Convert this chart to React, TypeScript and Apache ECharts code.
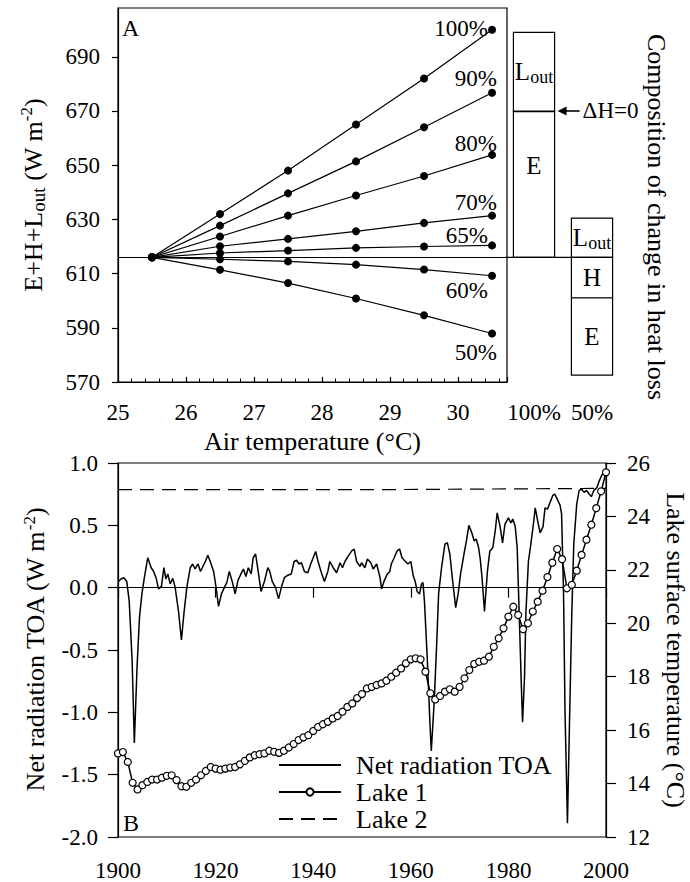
import React, { useEffect, useRef } from 'react';
import * as echarts from 'echarts';

const FONT = 'Liberation Serif, Times New Roman, serif';
const INK = '#000';

// ---------- Panel A : heat loss vs air temperature ----------
const airTemps = [25.5, 26.5, 27.5, 28.5, 29.5, 30.5];
const scenarioNames = ['100%', '90%', '80%', '70%', '65%', '60%', '50%'];
const loss100 = [616, 632, 648, 665, 682, 700];
const loss90 = [616, 627.7, 639.6, 651.4, 664, 676.7];
const loss80 = [616, 623.7, 631.4, 638.8, 646, 653.8];
const loss70 = [616, 620.1, 622.8, 625.6, 628.7, 631.4];
const loss65 = [616, 617.6, 618.5, 619.5, 620, 620.4];
const loss60 = [616, 615.3, 614.5, 613.3, 611.5, 609.2];
const loss50 = [616, 611.4, 606.5, 600.8, 594.6, 587.9];
const baselineLoss = 616;
const panelAXTicks = [25, 26, 27, 28, 29, 30];
const panelAYTicks = [570, 590, 610, 630, 650, 670, 690];

// composition of change in heat loss (stacked boxes)
const compCategories = ['100%', '50%'];
const compBar = [0, 0, 1, 1, 1];
const compLow = [616, 670, 616, 601, 572.5];
const compHigh = [670, 699, 630.5, 616, 601];
const compNames = ['E', 'Lout', 'Lout', 'H', 'E'];
const deltaHZero = 670;

// ---------- Panel B : time series ----------
const netRadiation: [number, number][] = [
  [1900.1, 0.05], [1900.6, 0.07], [1901.2, 0.08], [1901.8, 0.05], [1902.3, -0.11], [1902.9, -0.59],
  [1903.35, -1.245], [1903.9, -0.64], [1904.4, -0.24], [1904.9, -0.05], [1905.4, 0.08], [1906.1, 0.24],
  [1906.8, 0.16], [1907.3, 0.13], [1907.8, 0.08], [1908.3, -0.01], [1908.9, 0.01], [1909.4, 0.16],
  [1909.8, 0.07], [1910.2, 0.11], [1910.7, 0.03], [1911.2, 0.075], [1911.7, 0.005], [1912.4, -0.19],
  [1913.0, -0.42], [1913.5, -0.21], [1914.1, 0.0], [1914.8, 0.16], [1915.3, 0.19], [1915.8, 0.15],
  [1916.4, 0.19], [1916.9, 0.13], [1917.4, 0.17], [1917.9, 0.21], [1918.4, 0.26], [1918.9, 0.21],
  [1919.6, 0.13], [1920.1, 0.0], [1920.6, -0.15], [1921.2, -0.05], [1921.9, 0.01], [1922.3, 0.04],
  [1922.8, 0.13], [1923.4, 0.05], [1924.0, -0.05], [1924.6, 0.06], [1925.2, 0.11], [1925.7, 0.15],
  [1926.2, 0.09], [1926.7, 0.16], [1927.3, 0.11], [1927.7, 0.24], [1928.2, 0.27], [1928.8, 0.11],
  [1929.3, -0.03], [1930.0, 0.05], [1930.7, 0.16], [1931.1, 0.13], [1931.6, 0.05], [1932.3, 0.0],
  [1932.9, -0.09], [1933.6, 0.02], [1934.1, 0.08], [1934.8, 0.1], [1935.5, 0.11], [1936.1, 0.21],
  [1936.6, 0.22], [1937.1, 0.19], [1937.6, 0.2], [1938.2, 0.13], [1938.9, 0.12], [1939.5, 0.19],
  [1940.5, 0.29], [1941.0, 0.21], [1941.6, 0.13], [1942.3, 0.05], [1943.0, 0.13], [1943.4, 0.21],
  [1944.1, 0.16], [1944.8, 0.12], [1945.5, 0.2], [1946.0, 0.16], [1946.5, 0.21], [1947.2, 0.255],
  [1947.9, 0.295], [1948.4, 0.31], [1948.9, 0.21], [1949.6, 0.17], [1949.9, 0.2], [1950.6, 0.16],
  [1951.1, 0.23], [1951.8, 0.2], [1952.3, 0.15], [1953.0, 0.19], [1953.7, 0.08], [1954.0, -0.01],
  [1954.5, 0.05], [1955.2, 0.11], [1955.7, 0.13], [1956.0, 0.19], [1956.6, 0.24], [1957.2, 0.295],
  [1957.7, 0.31], [1958.2, 0.24], [1958.9, 0.21], [1959.4, 0.19], [1960.0, 0.21], [1960.5, 0.095],
  [1960.9, 0.05], [1961.3, -0.03], [1961.8, -0.05], [1962.2, 0.03], [1962.5, 0.04], [1962.8, -0.11],
  [1963.4, -0.59], [1963.9, -1.07], [1964.2, -1.31], [1964.8, -0.91], [1965.3, -0.455], [1965.7, -0.05],
  [1966.3, 0.16], [1967.0, 0.35], [1967.5, 0.36], [1968.0, 0.27], [1968.5, 0.08], [1969.2, -0.16],
  [1969.7, -0.05], [1970.2, 0.11], [1970.9, 0.27], [1971.4, 0.375], [1971.9, 0.5], [1972.5, 0.44],
  [1973.0, 0.375], [1973.4, 0.39], [1973.9, 0.32], [1974.2, 0.24], [1974.6, 0.08], [1975.1, -0.19],
  [1975.7, 0.13], [1976.2, 0.295], [1976.8, 0.32], [1977.3, 0.455], [1977.7, 0.6], [1978.3, 0.49],
  [1978.8, 0.36], [1979.3, 0.51], [1980.0, 0.56], [1980.5, 0.52], [1980.9, 0.55], [1981.4, 0.49],
  [1981.8, 0.32], [1982.2, -0.19], [1982.6, -0.72], [1982.9, -1.08], [1983.3, -0.72], [1983.6, -0.19],
  [1984.1, 0.21], [1984.6, 0.35], [1985.2, 0.535], [1985.5, 0.64], [1986.0, 0.535], [1986.5, 0.44],
  [1987.1, 0.49], [1987.5, 0.64], [1988.0, 0.63], [1988.5, 0.68], [1989.1, 0.74], [1989.5, 0.75],
  [1990.0, 0.71], [1990.6, 0.66], [1990.9, 0.59], [1991.3, -0.05], [1991.6, -0.99], [1992.1, -1.89],
  [1992.5, -1.12], [1993.0, -0.19], [1993.4, 0.35], [1994.0, 0.67], [1994.5, 0.78], [1995.0, 0.79],
  [1995.5, 0.765], [1996.0, 0.78], [1996.6, 0.75], [1997.0, 0.73], [1997.5, 0.78], [1998.1, 0.8],
  [1998.6, 0.855], [1999.1, 0.9], [1999.8, 0.94],
];

const lake1FirstYear = 1900;
const lake1Temps = [
  15.13, 15.18, 14.81, 14.03, 13.78, 13.94, 14.06, 14.15, 14.15, 14.22,
  14.29, 14.31, 14.13, 13.9, 13.88, 14.03, 14.15, 14.31, 14.47, 14.62,
  14.56, 14.52, 14.56, 14.6, 14.62, 14.72, 14.85, 14.98, 15.06, 15.1,
  15.13, 15.23, 15.19, 15.15, 15.23, 15.35, 15.48, 15.63, 15.73, 15.81,
  15.97, 16.12, 16.22, 16.31, 16.44, 16.53, 16.69, 16.87, 17.0, 17.2,
  17.35, 17.56, 17.62, 17.69, 17.75, 17.85, 18.0, 18.15, 18.31, 18.5,
  18.65, 18.69, 18.65, 18.19, 17.38, 17.15, 17.28, 17.44, 17.53, 17.44,
  17.62, 17.94, 18.25, 18.48, 18.56, 18.6, 18.75, 19.12, 19.44, 19.81,
  20.25, 20.62, 20.31, 19.78, 20.0, 20.44, 20.81, 21.22, 21.73, 22.27,
  22.78, 22.4, 21.31, 21.44, 21.97, 22.56, 23.13, 23.69, 24.31, 24.94,
  25.65,
];

const lake2Years = [1900, 1950, 2000];
const lake2Temps = [25.0, 25.0, 25.05];

const bYearTicks = [1900, 1920, 1940, 1960, 1980, 2000];

// label placement (style only) for the percentage labels
const pctLabelOffset: [number, number][] = [
  [0, -1], [9, -14], [9, -11], [9, -13], [0, -10], [0, 15], [9, 19],
];

export default function App() {
  const ref = useRef<HTMLDivElement | null>(null);

  useEffect(() => {
    document.body.style.margin = '0';
    if (!ref.current) return;
    const chart = echarts.init(ref.current, null, { renderer: 'svg' });

    const scenarioValues = [loss100, loss90, loss80, loss70, loss65, loss60, loss50];

    const axisLine = { show: true, lineStyle: { color: INK, width: 1.2 } };
    const labelStyle = { fontSize: 23, fontFamily: FONT, color: INK };
    const nameStyleBase = { fontSize: 26, fontFamily: FONT, color: INK };
    const nameRich = {
      sub: { fontSize: 19, fontFamily: FONT, color: INK, verticalAlign: 'bottom', lineHeight: 19 },
      sup: { fontSize: 17, fontFamily: FONT, color: INK, verticalAlign: 'top', lineHeight: 17 },
    };

    const lineSeries = scenarioValues.map((vals, k) => ({
      type: 'line',
      name: scenarioNames[k],
      xAxisIndex: 0,
      yAxisIndex: 0,
      symbol: 'circle',
      symbolSize: 8,
      itemStyle: { color: INK },
      lineStyle: { color: INK, width: 1.2 },
      emphasis: { disabled: true },
      silent: true,
      z: 3,
      data: airTemps.map((t, j) => {
        const item: any = { value: [t, vals[j]] };
        if (j === airTemps.length - 1) {
          item.label = {
            show: true,
            formatter: scenarioNames[k],
            position: 'left',
            distance: 0,
            offset: pctLabelOffset[k],
            fontSize: 23,
            fontFamily: FONT,
            color: INK,
          };
        }
        return item;
      }),
      markLine:
        k === 0
          ? {
              silent: true,
              symbol: ['none', 'none'],
              label: { show: false },
              lineStyle: { color: INK, width: 1.2, type: 'solid' },
              data: [{ yAxis: baselineLoss }],
            }
          : undefined,
    }));

    const compSeries = {
      type: 'custom',
      xAxisIndex: 1,
      yAxisIndex: 1,
      silent: true,
      clip: false,
      data: compBar.map((c, i) => [c, compLow[i], compHigh[i]]),
      renderItem: (params: any, api: any) => {
        const i = params.dataIndex;
        const c = api.value(0);
        const lo = api.value(1);
        const hi = api.value(2);
        const pTop = api.coord([c, hi]);
        const pBot = api.coord([c, lo]);
        const band = api.size([1, 0])[0];
        const bw = band * 0.71;
        const left = pTop[0] - bw / 2;
        const right = pTop[0] + bw / 2;
        const children: any[] = [
          {
            type: 'rect',
            shape: { x: left, y: pTop[1], width: bw, height: pBot[1] - pTop[1] },
            style: { fill: '#fff', stroke: INK, lineWidth: 1.2 },
          },
        ];
        const labelY = Math.min((pTop[1] + pBot[1]) / 2, pTop[1] + 55);
        const nm = compNames[i];
        children.push({
          type: 'text',
          x: pTop[0],
          y: labelY,
          style: {
            text: nm === 'Lout' ? '{m|L}{s|out}' : nm,
            fontSize: 25,
            fontFamily: FONT,
            fill: INK,
            align: 'center',
            verticalAlign: 'middle',
            rich: {
              m: { fontSize: 25, fontFamily: FONT, fill: INK, lineHeight: 28 },
              s: { fontSize: 18, fontFamily: FONT, fill: INK, lineHeight: 18, verticalAlign: 'bottom' },
            },
          },
        });
        if (hi === deltaHZero) {
          const y = pTop[1];
          children.push({
            type: 'line',
            shape: { x1: left, y1: y, x2: right, y2: y },
            style: { stroke: INK, lineWidth: 2.4 },
          });
          const ax = right + 3;
          children.push({
            type: 'polygon',
            shape: { points: [[ax, y], [ax + 9, y - 4.5], [ax + 9, y + 4.5]] },
            style: { fill: INK },
          });
          children.push({
            type: 'line',
            shape: { x1: ax + 7, y1: y, x2: ax + 22, y2: y },
            style: { stroke: INK, lineWidth: 1.6 },
          });
          children.push({
            type: 'text',
            x: ax + 25,
            y,
            style: {
              text: 'ΔH=0',
              fontSize: 23,
              fontFamily: FONT,
              fill: INK,
              align: 'left',
              verticalAlign: 'middle',
            },
          });
        }
        if (i === 0) {
          const pb0 = api.coord([0, baselineLoss]);
          const pb1 = api.coord([1, baselineLoss]);
          children.push({
            type: 'line',
            shape: { x1: params.coordSys.x, y1: pb0[1], x2: pb1[0] + bw / 2, y2: pb0[1] },
            style: { stroke: INK, lineWidth: 1.2 },
          });
        }
        return { type: 'group', children };
      },
    };

    const hiddenLegendSymbol = { color: 'rgba(0,0,0,0)', borderWidth: 0, opacity: 0 };

    const option: any = {
      animation: false,
      backgroundColor: '#fff',
      textStyle: { fontFamily: FONT, color: INK },
      grid: [
        { left: 118, top: 8, width: 389, height: 374, show: true, borderColor: INK, borderWidth: 1.2, backgroundColor: 'transparent', containLabel: false, outerBoundsMode: 'none' },
        { left: 505, top: 8, width: 116, height: 374, show: false, containLabel: false, outerBoundsMode: 'none' },
        { left: 118, top: 463, width: 488, height: 374, show: true, borderColor: INK, borderWidth: 1.2, backgroundColor: 'transparent', containLabel: false, outerBoundsMode: 'none' },
      ],
      xAxis: [
        {
          gridIndex: 0,
          type: 'value',
          min: 25,
          max: 30.72,
          interval: 1,
          axisLine,
          axisTick: { show: true, inside: true, length: 5, lineStyle: { color: INK, width: 1.2 } },
          minorTick: { show: true, splitNumber: 5, length: 3.5, lineStyle: { color: INK, width: 1 } },
          axisLabel: {
            ...labelStyle,
            margin: 19,
            customValues: panelAXTicks,
            formatter: (v: number) => (Number.isInteger(v) ? String(v) : ''),
          },
          splitLine: { show: false },
          minorSplitLine: { show: false },
          name: 'Air temperature (°C)',
          nameLocation: 'middle',
          nameGap: 46,
          nameTextStyle: nameStyleBase,
        },
        {
          gridIndex: 1,
          type: 'category',
          data: compCategories,
          boundaryGap: true,
          axisLine: { show: false },
          axisTick: { show: false },
          axisLabel: { ...labelStyle, margin: 19, interval: 0, hideOverlap: false },
          splitLine: { show: false },
        },
        {
          gridIndex: 2,
          type: 'value',
          min: 1900,
          max: 2000,
          interval: 20,
          axisLine,
          axisTick: { show: true, inside: false, length: 10, lineStyle: { color: INK, width: 1.2 }, customValues: bYearTicks },
          axisLabel: { ...labelStyle, margin: 22, customValues: bYearTicks, formatter: (v: number) => String(v) },
          splitLine: { show: false },
        },
      ],
      yAxis: [
        {
          gridIndex: 0,
          type: 'value',
          min: 570,
          max: 708,
          axisLine,
          axisTick: { show: true, inside: false, length: 6, lineStyle: { color: INK, width: 1.2 }, customValues: panelAYTicks },
          axisLabel: { ...labelStyle, margin: 18, customValues: panelAYTicks },
          splitLine: { show: false },
          name: 'E+H+L{sub|out} (W m{sup|-2})',
          nameLocation: 'middle',
          nameRotate: 90,
          nameGap: 70,
          nameTextStyle: { ...nameStyleBase, lineHeight: 30, rich: nameRich },
        },
        {
          gridIndex: 1,
          type: 'value',
          min: 570,
          max: 708,
          show: false,
          splitLine: { show: false },
        },
        {
          gridIndex: 2,
          type: 'value',
          position: 'left',
          min: -2,
          max: 1,
          interval: 0.5,
          axisLine,
          axisTick: { show: true, inside: false, length: 10, lineStyle: { color: INK, width: 1.2 } },
          axisLabel: { ...labelStyle, margin: 20, formatter: (v: number) => v.toFixed(1) },
          splitLine: { show: false },
          name: 'Net radiation TOA (W m{sup|-2})',
          nameLocation: 'middle',
          nameRotate: 90,
          nameGap: 62,
          nameTextStyle: { ...nameStyleBase, lineHeight: 30, rich: nameRich },
        },
        {
          gridIndex: 2,
          type: 'value',
          position: 'right',
          min: 12,
          max: 26,
          interval: 2,
          axisLine,
          axisTick: { show: true, inside: false, length: 10, lineStyle: { color: INK, width: 1.2 } },
          axisLabel: { ...labelStyle, margin: 21 },
          splitLine: { show: false },
          name: 'Lake surface temperature (°C)',
          nameLocation: 'middle',
          nameRotate: -90,
          nameGap: 49,
          nameTextStyle: { ...nameStyleBase, lineHeight: 30 },
        },
      ],
      legend: {
        show: true,
        orient: 'vertical',
        left: 278,
        top: 752,
        padding: 0,
        itemWidth: 62,
        itemHeight: 9,
        itemGap: 1,
        selectedMode: false,
        data: [
          { name: 'Net radiation TOA', itemStyle: hiddenLegendSymbol },
          { name: 'Lake 1' },
          { name: 'Lake 2', itemStyle: hiddenLegendSymbol },
        ],
        textStyle: { fontSize: 26, fontFamily: FONT, color: INK, lineHeight: 26, padding: [0, 0, 0, 10] },
      },
      graphic: [
        { type: 'text', left: 122, top: 16, silent: true, style: { text: 'A', fontSize: 24, fontFamily: FONT, fill: INK } },
        { type: 'text', left: 123, top: 811, silent: true, style: { text: 'B', fontSize: 24, fontFamily: FONT, fill: INK } },
        {
          type: 'text',
          x: 656,
          y: 217,
          rotation: -Math.PI / 2,
          silent: true,
          style: {
            text: 'Composition of change in heat loss',
            fontSize: 26,
            fontFamily: FONT,
            fill: INK,
            align: 'center',
            verticalAlign: 'middle',
          },
        },
      ],
      series: [
        ...lineSeries,
        compSeries,
        {
          name: 'Net radiation TOA',
          type: 'line',
          xAxisIndex: 2,
          yAxisIndex: 2,
          data: netRadiation,
          symbol: 'none',
          silent: true,
          lineStyle: { color: INK, width: 1.5 },
          itemStyle: { color: INK },
          z: 2,
        },
        {
          name: 'Lake 1',
          type: 'line',
          xAxisIndex: 2,
          yAxisIndex: 3,
          data: lake1Temps.map((v, i) => [lake1FirstYear + i, v]),
          symbol: 'circle',
          symbolSize: 7,
          showSymbol: true,
          showAllSymbol: true,
          silent: true,
          lineStyle: { color: INK, width: 1.5 },
          itemStyle: { color: '#fff', borderColor: INK, borderWidth: 1.2 },
          z: 3,
        },
        {
          name: 'Lake 2',
          type: 'line',
          xAxisIndex: 2,
          yAxisIndex: 3,
          data: lake2Years.map((y, i) => [y, lake2Temps[i]]),
          symbol: 'none',
          silent: true,
          lineStyle: { color: INK, width: 1.2, type: [14, 8] },
          itemStyle: { color: INK },
          z: 2,
        },
      ],
    };

    chart.setOption(option);
    return () => {
      chart.dispose();
    };
  }, []);

  return <div ref={ref} style={{ width: 690, height: 882 }} />;
}
